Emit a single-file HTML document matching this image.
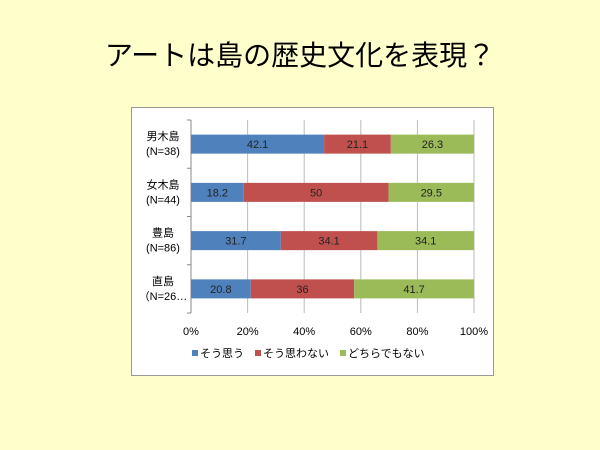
<!DOCTYPE html>
<html><head><meta charset="utf-8"><style>
body{margin:0;width:600px;height:450px;background:#ffffcc;overflow:hidden;font-family:"Liberation Sans","Noto Sans CJK JP",sans-serif;}
#title{position:absolute;left:0;width:600px;top:34px;text-align:center;font-size:28px;color:#000;}
#frame{position:absolute;left:131px;top:107px;width:363px;height:269px;background:#fff;border:1px solid #999;box-sizing:border-box;}
svg{position:absolute;left:0;top:0;}
</style></head><body>
<div id="title">アートは島の歴史文化を表現？</div>
<div id="frame"></div>
<svg id="chart" width="600" height="450"></svg>
<script>
const categories=["男木島","女木島","豊島","直島"];
const nLabels=["(N=38)","(N=44)","(N=86)","（N=26…"];
const seriesNames=["そう思う","そう思わない","どちらでもない"];
const agree=[42.1,18.2,31.7,20.8];
const disagree=[21.1,50,34.1,36];
const neither=[26.3,29.5,34.1,41.7];
const ticks=[0,20,40,60,80,100];
const colors=["#4f81bd","#c0504d","#9bbb59"];
const NS="http://www.w3.org/2000/svg";
const svg=document.getElementById('chart');
const x0=191,x1=474,yTop=120,yBot=313;
const xs=p=>x0+(x1-x0)*p/100;
const band=(yBot-yTop)/categories.length;
const yc=i=>yTop+band*(i+0.5);
function mk(t,a){const e=document.createElementNS(NS,t);for(const k in a)e.setAttribute(k,a[k]);svg.appendChild(e);return e;}
ticks.forEach(t=>{
 const g=mk('line',{x1:xs(t),x2:xs(t),y1:yTop,y2:yBot,stroke:t===0?'#888':'#bbb','stroke-width':1});
 
 
 const l=mk('text',{x:xs(t),y:335,'text-anchor':'middle','font-size':11,fill:'#000'});
 l.textContent=t+'%';
 
 
});
for(let i=0;i<=categories.length;i++){
 const tk=mk('line',{x1:x0-4,x2:x0,y1:yTop+band*i,y2:yTop+band*i,stroke:'#888'});
 
 
}
const series=[agree,disagree,neither];
categories.forEach((c,i)=>{
 const tot=agree[i]+disagree[i]+neither[i];
 let acc=0;
 series.forEach((s,j)=>{
  const a=xs(acc/tot*100),b=xs((acc+s[i])/tot*100);
  const r=mk('rect',{x:a,y:yc(i)-9.5,width:b-a,height:19,fill:colors[j]});
  
  
  const t=mk('text',{x:(a+b)/2,y:yc(i)+4,'text-anchor':'middle','font-size':11,fill:'#222'});
  t.textContent=s[i];
  
  
  acc+=s[i];
 });
 const l1=mk('text',{x:163,y:yc(i)-4,'text-anchor':'middle','font-size':11,fill:'#000'});
 l1.textContent=c;
 
 
 const l2=mk('text',{x:163,y:yc(i)+11,'text-anchor':'middle','font-size':11,fill:'#000'});
 l2.textContent=nLabels[i];
 
 
});
const lx=[192,255,340];
seriesNames.forEach((n,j)=>{
 const r=mk('rect',{x:lx[j],y:350,width:6,height:6,fill:colors[j]});
 
 
 const t=mk('text',{x:lx[j]+8,y:357,'font-size':11,fill:'#000'});
 t.textContent=n;
 
 
});
</script>
</body></html>
